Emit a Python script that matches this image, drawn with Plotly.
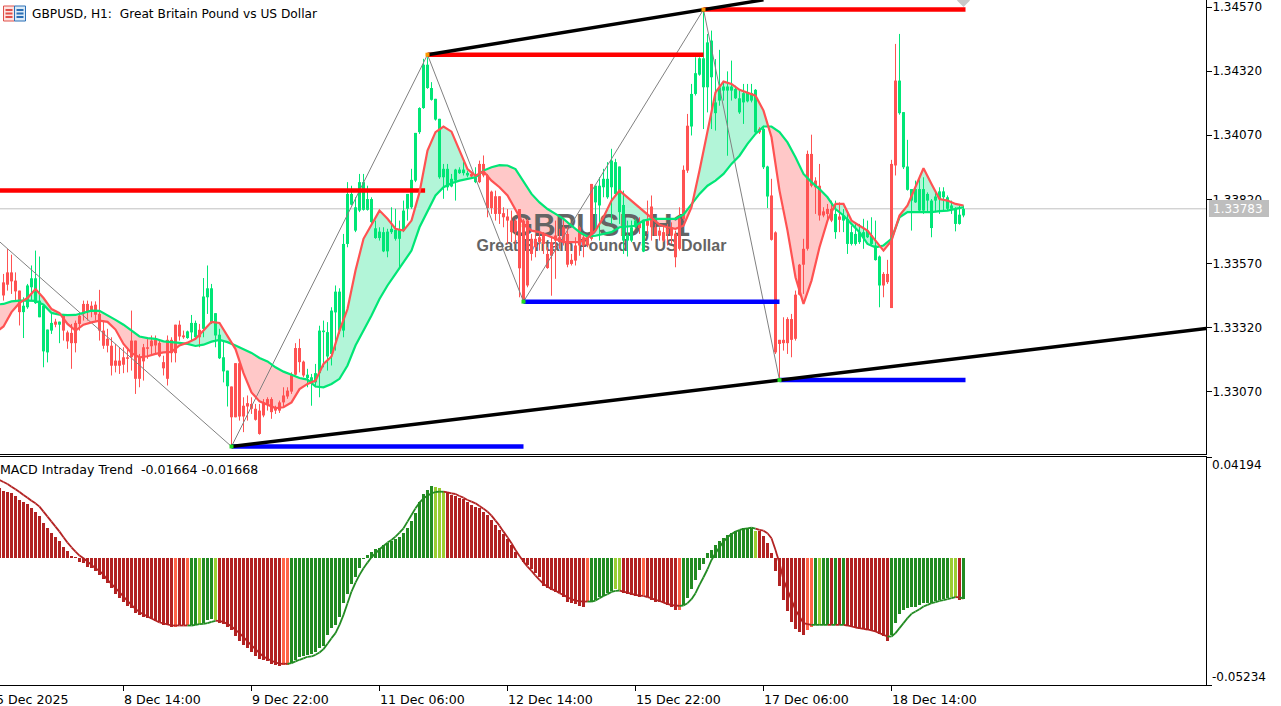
import plotly.graph_objects as go

# ---- Prices are stored in points above 1.00000 (33529 -> 1.33529) ----
HIGH = [33529,33626,33604,33535,33464,33438,33490,33562,33620,33597,33405,33312,33373,33354,33343,33373,33308,33334,33347,33380,
33425,33425,33422,33422,33467,33347,33315,33282,33256,33243,33243,33243,33386,33269,33217,33256,33282,33289,33289,33269,
33210,33289,33282,33331,33347,33308,33308,33369,33347,33334,33513,33562,33490,33376,33315,33269,33152,33090,33181,33185,
33048,33055,33048,33022,33022,33041,33048,33048,33015,33035,33087,33087,33145,33259,33276,33191,33159,33139,33178,33327,
33347,33341,33399,33484,33473,33685,33887,33873,33828,33919,33919,33873,33828,33737,33711,33711,33705,33789,33783,33737,
33815,33841,33939,34079,34179,34368,34374,34277,34212,34134,33958,33958,33919,33939,33945,33965,33932,33926,33945,33971,
33991,33919,33854,33854,33832,33789,33782,33776,33744,33782,33744,33744,33685,33685,33692,33692,33633,33672,33737,33705,
33750,33711,33607,33672,33717,33685,33678,33880,33873,33906,33939,33965,34017,33978,33948,33854,33737,33737,33744,33750,
33740,33815,33835,33724,33711,33717,33724,33730,33698,33789,33952,34153,34270,34374,34374,34560,34465,34478,34367,34403,
34276,34319,34361,34263,34244,34270,34270,34270,34250,34101,34107,33951,33900,33695,33272,33360,33360,33373,33464,33568,
33666,34010,34072,33906,33958,33789,33802,33815,33815,33808,33782,33763,33717,33730,33724,33744,33737,33750,33737,33601,
33536,33584,33974,34426,34465,34160,34052,33860,33893,33900,33906,33847,33821,33847,33867,33867,33835,33815,33789,33796,33796]
BODY_TOP = [33496,33535,33535,33503,33464,33405,33484,33512,33512,33425,33405,33312,33338,33343,33343,33369,33301,33299,33338,33366,
33412,33412,33405,33409,33373,33308,33276,33249,33191,33191,33204,33204,33269,33269,33204,33243,33243,33269,33272,33260,
33185,33272,33272,33331,33331,33289,33305,33338,33338,33311,33441,33473,33473,33376,33292,33204,33152,33090,33181,33181,
33015,33025,33022,33003,32996,33028,33041,33041,33009,33028,33055,33074,33139,33240,33240,33187,33136,33126,33142,33308,
33308,33302,33386,33460,33460,33646,33841,33841,33789,33887,33887,33821,33821,33707,33694,33692,33694,33705,33701,33701,
33776,33841,33896,34079,34176,34345,34345,34254,34212,34134,33939,33939,33900,33936,33936,33936,33923,33919,33906,33958,
33958,33913,33850,33832,33832,33766,33753,33737,33737,33782,33737,33737,33666,33666,33672,33685,33607,33653,33679,33672,
33711,33685,33584,33640,33711,33672,33672,33880,33873,33873,33900,33900,33971,33965,33948,33798,33681,33711,33737,33724,
33740,33737,33792,33711,33698,33692,33705,33711,33685,33744,33935,34107,34231,34312,34370,34370,34432,34439,34198,34257,
34260,34260,34260,34250,34214,34234,34237,34234,34247,34095,34095,33948,33835,33691,33272,33272,33353,33353,33448,33565,
33627,33997,33997,33893,33873,33773,33783,33783,33763,33753,33757,33744,33692,33685,33692,33692,33698,33679,33640,33597,
33529,33529,33958,34283,34283,34160,33948,33860,33860,33860,33860,33841,33815,33831,33851,33851,33828,33796,33783,33760,33783]
BODY_BOTTOM = [33445,33487,33500,33461,33380,33380,33399,33477,33415,33360,33227,33223,33308,33331,33331,33308,33266,33259,33259,33334,
33373,33380,33382,33370,33308,33249,33249,33171,33171,33171,33175,33198,33204,33120,33120,33188,33237,33247,33250,33208,
33161,33120,33220,33220,33285,33282,33279,33301,33282,33282,33315,33438,33340,33289,33200,33149,33091,32970,32970,32973,
32973,33012,33003,32960,32905,32977,33022,32990,32996,32996,33028,33051,33070,33136,33185,33133,33123,33106,33106,33142,
33302,33207,33217,33379,33308,33308,33646,33799,33698,33776,33779,33779,33731,33669,33669,33617,33617,33692,33666,33666,
33698,33783,33789,33893,34082,34176,34254,34208,34131,33906,33906,33867,33870,33893,33922,33922,33913,33909,33887,33887,
33913,33786,33786,33763,33763,33750,33737,33692,33692,33551,33425,33484,33607,33633,33653,33646,33552,33600,33659,33653,
33653,33565,33568,33581,33640,33640,33640,33666,33808,33796,33867,33828,33867,33841,33770,33659,33659,33659,33711,33708,
33616,33717,33711,33678,33678,33659,33685,33678,33594,33627,33744,33932,34104,34231,34306,34257,34257,34296,34156,34205,
34244,34244,34244,34214,34159,34198,34202,34205,34081,34081,33945,33831,33662,33223,33256,33259,33259,33272,33276,33448,
33565,33627,33873,33867,33757,33757,33763,33737,33692,33740,33737,33646,33646,33646,33653,33669,33672,33646,33583,33484,
33484,33497,33396,33952,34156,33945,33857,33815,33808,33776,33776,33815,33708,33815,33821,33828,33783,33783,33724,33724,33757]
LOW = [33425,33464,33451,33425,33328,33279,33393,33425,33412,33360,33165,33184,33295,33321,33259,33269,33237,33159,33223,33308,
33347,33347,33360,33347,33269,33237,33223,33133,33145,33139,33142,33145,33152,33061,33087,33113,33198,33210,33217,33204,
33133,33094,33184,33184,33269,33276,33276,33269,33279,33243,33282,33373,33334,33243,33197,33106,33012,32857,32970,32957,
32912,32957,32983,32957,32902,32970,32996,32964,32983,32987,33009,33042,33061,33133,33145,33126,33087,33015,33087,33048,
33165,33152,33172,33230,33295,33282,33633,33796,33692,33770,33776,33776,33724,33666,33659,33614,33594,33685,33659,33549,
33692,33737,33783,33887,34075,34173,34251,34205,34127,33900,33822,33854,33867,33815,33919,33913,33906,33906,33883,33883,
33906,33750,33763,33737,33724,33711,33646,33653,33646,33438,33425,33477,33581,33594,33620,33607,33549,33444,33510,33627,
33640,33555,33562,33562,33600,33594,33633,33659,33705,33659,33828,33822,33724,33835,33724,33607,33597,33653,33708,33685,
33614,33685,33659,33678,33659,33653,33640,33646,33555,33620,33737,33923,34069,34225,34302,34094,34159,34094,34088,34185,
34205,33990,34205,34211,34153,34114,34198,34198,34075,34075,33938,33786,33659,33217,33120,33230,33217,33204,33269,33445,
33451,33620,33867,33763,33737,33750,33737,33731,33666,33692,33692,33607,33640,33640,33646,33627,33669,33640,33581,33399,
33438,33490,33396,33913,34150,33938,33854,33698,33806,33770,33763,33770,33672,33770,33763,33776,33776,33763,33695,33721,33750]
CANDLE_DIR = ("r"*5 + "g"*8 + "r" + "g" + "r"*31 + "g"*3 + "r" + "g"*7 + "r"*19 + "g"*41 + "r" + "g" + "r"*29 + "g"*11 + "r" + "g"
              + "r"*11 + "g"*17 + "r" + "g"*2 + "r"*16 + "g" + "r" + "g"*10 + "r"*4 + "g"*17)

MA_INDEX = list(range(-2, 241, 2))
FAST_MA = [33301,33324,33380,33416,33435,33470,33435,33392,33376,33334,33308,33331,33340,33347,33342,33312,33256,33220,33204,33208,33217,
33223,33225,33250,33261,33276,33308,33342,33338,33289,33236,33142,33067,33032,33019,33006,33009,33028,33080,33100,33113,33178,
33207,33308,33392,33542,33666,33724,33776,33744,33705,33698,33737,33847,34010,34082,34104,34084,34010,33938,33912,33929,33893,33867,33835,33782,
33724,33698,33692,33679,33666,33653,33653,33653,33669,33698,33750,33815,33854,33828,33802,33776,33750,33721,33711,33705,33717,33789,33932,34088,34237,
34279,34270,34247,34237,34224,34166,34062,33854,33698,33516,33412,33503,33633,33737,33802,33802,33737,33717,33698,33659,33620,33659,33757,33796,33867,
33941,33880,33821,33815,33802,33796]
SLOW_MA = [33409,33412,33422,33425,33425,33424,33409,33377,33370,33368,33369,33376,33386,33385,33369,33350,33331,33308,33285,33279,33276,
33266,33264,33260,33256,33248,33253,33265,33272,33263,33250,33237,33221,33201,33188,33165,33148,33136,33123,33117,33090,33087,
33100,33120,33172,33250,33308,33367,33431,33484,33529,33575,33620,33711,33776,33835,33867,33883,33893,33900,33906,33932,33945,33953,33952,33938,
33887,33841,33808,33782,33763,33744,33717,33692,33675,33678,33685,33692,33711,33714,33717,33737,33744,33744,33744,33744,33760,33799,33841,33873,33893,
33919,33958,33990,34036,34075,34104,34104,34082,34042,33984,33919,33887,33860,33828,33782,33757,33724,33692,33646,33633,33640,33666,33750,33770,33770,
33770,33770,33774,33776,33783,33789]

# ---- MACD readings from index -1 to 240; multiply by MACD_UNIT for the indicator's value ----
MACD_UNIT = 0.93e-5
HIST = [3115,3012,2967,2893,2775,2597,2494,2420,2227,2079,1887,1591,1369,1147,940,777,496,333,111,52,-141,-215,-363,-437,-555,-733,-925,-1103,-1325,-1576,
-1739,-1917,-2094,-2213,-2405,-2509,-2612,-2657,-2701,-2760,-2834,-2953,-2982,-3071,-3027,-2982,-2982,-2982,-2982,-2953,-2908,-2879,-2731,-2701,-2731,-2849,-2908,-3027,-3175,-3441,
-3693,-3841,-3989,-4181,-4359,-4462,-4536,-4581,-4684,-4729,-4773,-4758,-4758,-4655,-4507,-4388,-4359,-4285,-4255,-4166,-3989,-3915,-3426,-3101,-2953,-2583,-1991,-1576,-1147,-807,
-407,-22,155,274,407,451,599,673,777,851,940,1147,1339,1665,2035,2494,2849,3041,3219,3160,3130,3012,2938,2819,2775,2701,2627,2523,2375,2301,
2257,2079,1931,1709,1487,1265,1073,851,599,303,37,-141,-289,-481,-659,-807,-1221,-1325,-1399,-1473,-1547,-1695,-1917,-1991,-2020,-2109,-2139,-1917,-1917,-1843,
-1724,-1665,-1547,-1428,-1369,-1399,-1517,-1591,-1621,-1665,-1695,-1621,-1724,-1843,-1917,-1917,-1991,-2065,-2168,-2287,-2287,-2065,-1739,-1354,-955,-511,-244,229,377,599,
777,895,1043,1117,1221,1265,1339,1369,1369,1236,1236,999,673,259,-555,-1221,-1843,-2316,-2834,-3130,-3293,-3426,-3204,-3071,-2953,-2953,-2953,-2953,-2982,-2982,
-2982,-2982,-2997,-3027,-3101,-3145,-3145,-3175,-3219,-3293,-3367,-3471,-3693,-3397,-2879,-2464,-2287,-2213,-2168,-2139,-2065,-1991,-1991,-1961,-1872,-1843,-1798,-1769,-1724,-1724,-1843,-1789]
SIGNAL = [3485,3397,3308,3189,3071,2953,2819,2701,2568,2449,2301,2079,1857,1635,1413,1191,940,703,496,303,126,7,-141,-289,-437,-555,-733,-955,-1132,-1325,
-1502,-1695,-1887,-2065,-2242,-2390,-2479,-2583,-2671,-2760,-2849,-2893,-2938,-2982,-2982,-2982,-2982,-2982,-2982,-2953,-2923,-2908,-2879,-2819,-2775,-2775,-2834,-2908,-3027,-3175,
-3323,-3500,-3693,-3870,-4033,-4211,-4359,-4462,-4551,-4625,-4684,-4684,-4684,-4655,-4581,-4507,-4447,-4373,-4359,-4285,-4181,-4033,-3796,-3545,-3323,-2953,-2509,-1991,-1473,-1073,
-733,-437,-185,52,229,407,555,703,821,969,1147,1339,1635,1931,2227,2479,2671,2790,2893,2953,2967,2967,2938,2893,2864,2775,2701,2597,2523,2449,
2331,2213,2079,1902,1680,1458,1191,940,673,377,111,-141,-363,-555,-762,-955,-1132,-1251,-1369,-1428,-1547,-1621,-1724,-1813,-1872,-1902,-1917,-1917,-1917,-1872,
-1769,-1665,-1591,-1487,-1443,-1428,-1473,-1517,-1576,-1621,-1650,-1665,-1724,-1769,-1843,-1887,-1961,-2020,-2079,-2094,-2109,-2094,-1991,-1813,-1547,-1177,-836,-481,-67,229,
496,747,940,1088,1191,1265,1310,1339,1369,1325,1265,1236,1117,895,377,-215,-955,-1399,-1843,-2287,-2583,-2879,-2923,-2953,-2953,-2953,-2953,-2953,-2953,-2953,
-2953,-2953,-2982,-3027,-3071,-3101,-3130,-3160,-3204,-3249,-3323,-3397,-3471,-3471,-3323,-3101,-2879,-2657,-2464,-2361,-2257,-2139,-2065,-1991,-1946,-1887,-1857,-1813,-1769,-1724,-1724,-1794]
HIST_STATE = ("r"*44 + "c" + "rr" + "c" + "gg" + "y" + "ggg" + "y" + "r"*16 + "cc" + "g"*36 + "yyy" + "r"*35 + "c" + "g"*6 + "yy"
              + "r"*5 + "c" + "r"*8 + "c" + "g"*18 + "y" + "r"*12 + "cc" + "g" + "y" + "gg" + "r" + "g" + "r" + "g" + "r"*11 + "g"*15 + "yy" + "r" + "g")

ZIGZAG_INDEX = [-1, 57, 106, 130, 175, 194]
ZIGZAG_PRICE = [1.33655, 1.32856, 1.34384, 1.33421, 1.34560, 1.33115]
LEVELS_RED = [(-3, 105.4, 1.33854), (106, 175, 1.34384), (175, 240.5, 1.34560)]
LEVELS_BLUE = [(57, 130, 1.32856), (130, 194, 1.33421), (194, 240.5, 1.33115)]
TREND_LOWER = ([57, 301], [1.32856, 1.33317])
TREND_UPPER = ([106, 190], [1.34384, 1.34598])
LAST_PRICE = 1.33783

PRICE_TICKS = [1.34570, 1.34320, 1.34070, 1.33820, 1.33570, 1.33320, 1.33070]
MACD_TOP, MACD_BOTTOM = 0.04194, -0.05234
TIME_TICK_INDEX = [-2, 30, 62, 94, 126, 158, 190, 222]
TIME_TICK_LABELS = ["5 Dec 2025", "8 Dec 14:00", "9 Dec 22:00", "11 Dec 06:00", "12 Dec 14:00",
                    "15 Dec 22:00", "17 Dec 06:00", "18 Dec 14:00"]

for arr in (HIGH, BODY_TOP, BODY_BOTTOM, LOW):
    assert len(arr) == 241, len(arr)
assert len(CANDLE_DIR) == 241, len(CANDLE_DIR)
assert len(FAST_MA) == len(MA_INDEX) == len(SLOW_MA), (len(FAST_MA), len(SLOW_MA), len(MA_INDEX))
assert len(HIST) == 242 == len(SIGNAL) == len(HIST_STATE), (len(HIST), len(SIGNAL), len(HIST_STATE))

# ---- style ----
WIDTH, HEIGHT = 1281, 706
UP, DOWN = "#00E676", "#FF5252"
FILL_UP, FILL_DOWN = "#B2F5D8", "#FFC8C8"
FONT = "DejaVu Sans"
PLOT_R = 1206
X_RANGE = [-0.875, -0.875 + PLOT_R / 4]
MAIN_TOP = 1.34595 + 0.6 * 0.000039
px = lambda p: 1 + p / 1e5
mv = lambda v: v * MACD_UNIT
def paper_x(p): return p / WIDTH
def paper_y(p): return 1 - p / HEIGHT

candle_x = list(range(241))
def segments(idx, a, b):
    xs, ys = [], []
    for i in idx:
        xs += [i, i, None]
        ys += [px(a[i]), px(b[i]), None]
    return xs, ys

fig = go.Figure()

def line(x, y, color, width, name, xa="x", ya="y"):
    fig.add_trace(go.Scatter(x=x, y=y, mode="lines", line=dict(color=color, width=width), name=name,
                             xaxis=xa, yaxis=ya, showlegend=False, hoverinfo="skip", connectgaps=False))

# last-price line
line([X_RANGE[0], X_RANGE[1]], [LAST_PRICE, LAST_PRICE], "#C0C0C0", 1, "last")

# fills between the two averages
polys = {True: ([], []), False: ([], [])}
run_x, run_f, run_s, state = [], [], [], None
def flush():
    if len(run_x) > 1:
        xs, ys = polys[state]
        xs += run_x + run_x[::-1] + [None]
        ys += [px(v) for v in run_f] + [px(v) for v in run_s[::-1]] + [None]
for k, x in enumerate(MA_INDEX):
    s = FAST_MA[k] >= SLOW_MA[k]
    if state is None:
        state = s
    if s != state:
        d0 = FAST_MA[k-1] - SLOW_MA[k-1]
        d1 = FAST_MA[k] - SLOW_MA[k]
        t = d0 / (d0 - d1)
        cx = MA_INDEX[k-1] + t * (x - MA_INDEX[k-1])
        cv = FAST_MA[k-1] + t * (FAST_MA[k] - FAST_MA[k-1])
        run_x.append(cx); run_f.append(cv); run_s.append(cv)
        flush()
        state = s
        run_x, run_f, run_s = [cx], [cv], [cv]
    run_x.append(x); run_f.append(FAST_MA[k]); run_s.append(SLOW_MA[k])
flush()
for key, col in ((True, FILL_UP), (False, FILL_DOWN)):
    fig.add_trace(go.Scatter(x=polys[key][0], y=polys[key][1], mode="lines", fill="toself", fillcolor=col,
                             line=dict(width=0, color=col), showlegend=False, hoverinfo="skip"))

# chart watermark: above the fills, beneath the candles
fig.add_trace(go.Scatter(x=[149, 149.5], y=[1.33706, 1.33636], mode="text",
                         text=["GBPUSD,H1", "Great Britain Pound vs US Dollar"],
                         textfont=dict(family="Liberation Sans", size=[31, 16], color="#646464", weight="bold"),
                         textposition="middle center", showlegend=False, hoverinfo="skip"))

# candles
for d, col in (("r", DOWN), ("g", UP)):
    idx = [i for i in candle_x if CANDLE_DIR[i] == d]
    x, y = segments(idx, HIGH, LOW)
    line(x, y, col, 1, "wick " + d)
    x, y = segments(idx, BODY_TOP, BODY_BOTTOM)
    line(x, y, col, 3, "body " + d)

# zigzag, levels, trend lines
line(ZIGZAG_INDEX, ZIGZAG_PRICE, "#808080", 1, "zigzag")
for levels, col in ((LEVELS_RED, "#FF0000"), (LEVELS_BLUE, "#0000FF")):
    xs, ys = [], []
    for a, b, p in levels:
        xs += [a, b, None]; ys += [p, p, None]
    line(xs, ys, col, 4.5, "levels")
line(TREND_LOWER[0], TREND_LOWER[1], "#000000", 3.4, "trend low")
line(TREND_UPPER[0], TREND_UPPER[1], "#000000", 3.4, "trend high")
fig.add_trace(go.Scatter(x=ZIGZAG_INDEX[1:], y=ZIGZAG_PRICE[1:], mode="markers",
                         marker=dict(symbol="square", size=4, color=["#22DD22", "#FF9900", "#22DD22", "#FF9900", "#22DD22"]),
                         showlegend=False, hoverinfo="skip"))
fig.add_trace(go.Scatter(x=[240], y=[1.34595], mode="markers", marker=dict(symbol="diamond", size=10, color="#C8C8C8"),
                         showlegend=False, hoverinfo="skip"))

# averages
line(MA_INDEX, [px(v) for v in SLOW_MA], UP, 2.2, "slow")
line(MA_INDEX, [px(v) for v in FAST_MA], DOWN, 2.2, "fast")

# MACD panel
bar_index = list(range(-1, 241))
STATE_COLOR = {"r": "#B22222", "c": "#FF6347", "g": "#228B22", "y": "#9ACD32"}
fig.add_trace(go.Bar(x=bar_index, y=[mv(v) for v in HIST], width=0.75,
                     marker=dict(color=[STATE_COLOR[s] for s in HIST_STATE], line=dict(width=0)),
                     xaxis="x2", yaxis="y2", showlegend=False, hoverinfo="skip"))
for family, col in (("rc", "#B22222"), ("gy", "#228B22")):
    xs, ys = [], []
    for k in range(1, len(bar_index)):
        if HIST_STATE[k] in family:
            xs += [bar_index[k-1], bar_index[k], None]
            ys += [mv(SIGNAL[k-1]), mv(SIGNAL[k]), None]
    line(xs, ys, col, 1.8, "signal", "x2", "y2")

axis_font = dict(family=FONT, size=12, color="#000000")
base_x = dict(range=X_RANGE, domain=[0, PLOT_R / WIDTH], showgrid=False, zeroline=False, showline=True,
              linecolor="#000000", linewidth=1, fixedrange=True)
base_y = dict(side="right", showgrid=False, zeroline=False, showline=True, linecolor="#000000", linewidth=1,
              ticks="outside", ticklen=5, tickcolor="#000000", tickwidth=1, tickfont=axis_font, fixedrange=True)

annots = []
def label(x, y, text, color="#000000", size=12):
    annots.append(dict(xref="paper", yref="paper", x=paper_x(x), y=paper_y(y), text=text, showarrow=False,
                       xanchor="left", yanchor="middle", font=dict(family=FONT, size=size, color=color), borderpad=0))
label(31, 14, "GBPUSD, H1:  Great Britain Pound vs US Dollar", size=12.2)
label(-1, 469, "MACD Intraday Trend  -0.01664 -0.01668", size=12.6)
for i, t in zip(TIME_TICK_INDEX, TIME_TICK_LABELS):
    label(3.5 + 4 * i - 1, 699, t, size=12.6)
label(1212, 208.5, "1.33783", "#FFFFFF")
label(1211, 465, f"{MACD_TOP:.5f}")
label(1211, 677, f"{MACD_BOTTOM:.5f}")

shapes = [dict(type="rect", xref="paper", yref="paper", x0=paper_x(1209), x1=paper_x(1269), y0=paper_y(217), y1=paper_y(200),
               fillcolor="#BEBEBE", line=dict(width=0), layer="above")]
def icon_rect(x0, x1, col, fill):
    shapes.append(dict(type="rect", xref="paper", yref="paper", x0=paper_x(x0), x1=paper_x(x1), y0=paper_y(21), y1=paper_y(6),
                       fillcolor=fill, line=dict(color=col, width=1), layer="above"))
    for yy in (10, 13.5, 17):
        shapes.append(dict(type="line", xref="paper", yref="paper", x0=paper_x(x0 + 2), x1=paper_x(x1 - 2), y0=paper_y(yy), y1=paper_y(yy),
                           line=dict(color=col, width=2), layer="above"))
icon_rect(3.5, 14.5, "#E0504A", "#FDE3E0")
icon_rect(14.5, 25.5, "#2A6FB5", "#DCEBF7")

fig.update_layout(
    width=WIDTH, height=HEIGHT, margin=dict(l=0, r=0, t=0, b=0), paper_bgcolor="#FFFFFF", plot_bgcolor="#FFFFFF",
    showlegend=False, barmode="overlay", bargap=0, annotations=annots, shapes=shapes,
    xaxis=dict(base_x, anchor="y", ticks="", showticklabels=False),
    yaxis=dict(base_y, domain=[paper_y(454), 1], range=[MAIN_TOP - 454 * 0.000039, MAIN_TOP], anchor="x",
               tickvals=PRICE_TICKS, ticktext=[f"{v:.5f}" for v in PRICE_TICKS],
               ticklabeloverflow="allow", ticklabelstandoff=-2),
    xaxis2=dict(base_x, anchor="y2", mirror=True, ticks="outside", ticklen=5, tickcolor="#000000",
                tickvals=TIME_TICK_INDEX, showticklabels=False),
    yaxis2=dict(base_y, domain=[paper_y(685), paper_y(457)], range=[MACD_BOTTOM, MACD_TOP], anchor="x2",
                tickvals=[MACD_TOP, MACD_BOTTOM], showticklabels=False),
)

fig.write_html("out.html", config=dict(displayModeBar=False, staticPlot=True),
               post_script="document.body.style.margin='0';document.documentElement.style.overflow='hidden';")
